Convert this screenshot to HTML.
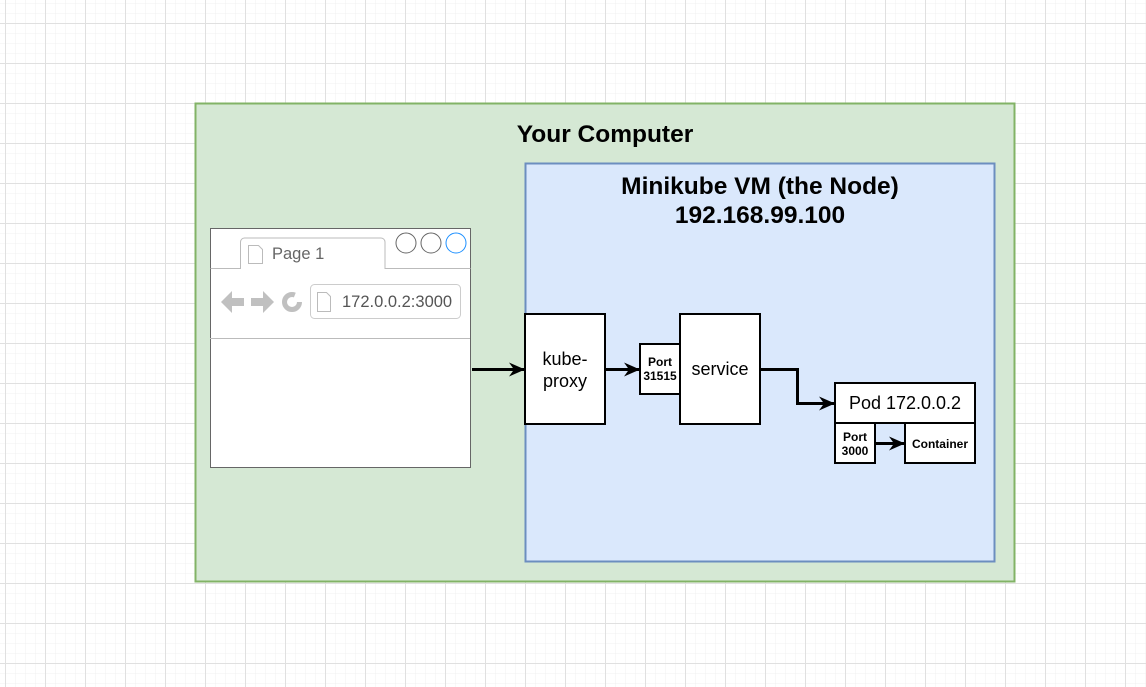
<!DOCTYPE html>
<html><head><style>body{margin:0}svg{display:block}</style></head><body>
<svg width="1146" height="687" xmlns="http://www.w3.org/2000/svg" font-family="Liberation Sans, Arial, sans-serif">
<defs>
<pattern id="mn" width="10" height="10" patternUnits="userSpaceOnUse" x="5" y="3"><path d="M0 0H10M0 0V10" stroke="#f1f1f1" stroke-width="1" fill="none"/></pattern>
<pattern id="mj" width="40" height="40" patternUnits="userSpaceOnUse" x="5" y="23"><path d="M0 0.5H40M0.5 0V40" stroke="#e0e0e0" stroke-width="1" fill="none"/></pattern>
<marker id="b" markerWidth="16" markerHeight="14" refX="15" refY="7" orient="auto" markerUnits="userSpaceOnUse"><path d="M0 0L16 7L0 14L5 7Z" fill="#000"/></marker>
</defs>
<rect width="1146" height="687" fill="#fff"/>
<rect width="1146" height="687" fill="url(#mn)"/>
<rect width="1146" height="687" fill="url(#mj)"/>
<rect x="195.5" y="103.5" width="819" height="478" fill="#d5e8d4" stroke="#82b366" stroke-width="2"/>
<text x="605" y="142" text-anchor="middle" font-size="24.5" font-weight="bold">Your Computer</text>
<rect x="525.5" y="163.5" width="469" height="398" fill="#dae8fc" stroke="#6c8ebf" stroke-width="2"/>
<text x="760" y="194" text-anchor="middle" font-size="24.5" font-weight="bold">Minikube VM (the Node)</text>
<text x="760" y="223" text-anchor="middle" font-size="24.5" font-weight="bold">192.168.99.100</text>
<!-- browser -->
<rect x="210.5" y="228.5" width="260" height="239" fill="#fff" stroke="#666"/>
<path d="M210.5 268.5H240.5V242a4 4 0 0 1 4-4H381a4 4 0 0 1 4 4V268.5H470.5" fill="none" stroke="#bbb"/>
<path d="M248.5 245.5h10l4 4v14h-14z" fill="#fff" stroke="#bbb"/>
<text x="272" y="259" font-size="16.5" fill="#666">Page 1</text>
<circle cx="406" cy="243" r="10" fill="#fff" stroke="#666"/>
<circle cx="431" cy="243" r="10" fill="#fff" stroke="#666"/>
<circle cx="456" cy="243" r="10" fill="#fff" stroke="#1e90ff"/>
<path d="M221 302l11-11v7h12v8h-12v7z" fill="#c0c0c0"/>
<path d="M274 302l-11-11v7h-12v8h12v7z" fill="#c0c0c0"/>
<circle cx="292" cy="302" r="7.5" fill="none" stroke="#c0c0c0" stroke-width="5" stroke-dasharray="38 10"/>
<rect x="310.5" y="284.5" width="150" height="34" rx="4" fill="#fff" stroke="#ccc"/>
<path d="M317.5 292.5h9l4 4v15h-13z" fill="#fff" stroke="#bbb"/>
<text x="342" y="307" font-size="16.5" fill="#555">172.0.0.2:3000</text>
<line x1="210" y1="338.5" x2="470" y2="338.5" stroke="#bbb"/>
<g fill="#fff" stroke="#000" stroke-width="2">
<rect x="525" y="314" width="80" height="110"/>
<rect x="640" y="344" width="40" height="50"/>
<rect x="680" y="314" width="80" height="110"/>
<rect x="835" y="383" width="140" height="40"/>
<rect x="835" y="423" width="40" height="40"/>
<rect x="905" y="423" width="70" height="40"/>
</g>
<g font-size="18" text-anchor="middle">
<text x="565" y="365">kube-</text><text x="565" y="387">proxy</text>
<text x="720" y="375">service</text>
<text x="905" y="409">Pod 172.0.0.2</text>
</g>
<g font-size="12" font-weight="bold" text-anchor="middle">
<text x="660" y="366">Port</text><text x="660" y="380">31515</text>
<text x="855" y="441">Port</text><text x="855" y="455">3000</text>
<text x="940" y="448">Container</text>
</g>
<g stroke="#000" stroke-width="3" fill="none">
<path d="M472 369.5H524" marker-end="url(#b)"/>
<path d="M606 369.5H639" marker-end="url(#b)"/>
<path d="M761 369.5H797.5V403.5H834" marker-end="url(#b)"/>
<path d="M876 443.5H904" marker-end="url(#b)"/>
</g>
</svg>
</body></html>
